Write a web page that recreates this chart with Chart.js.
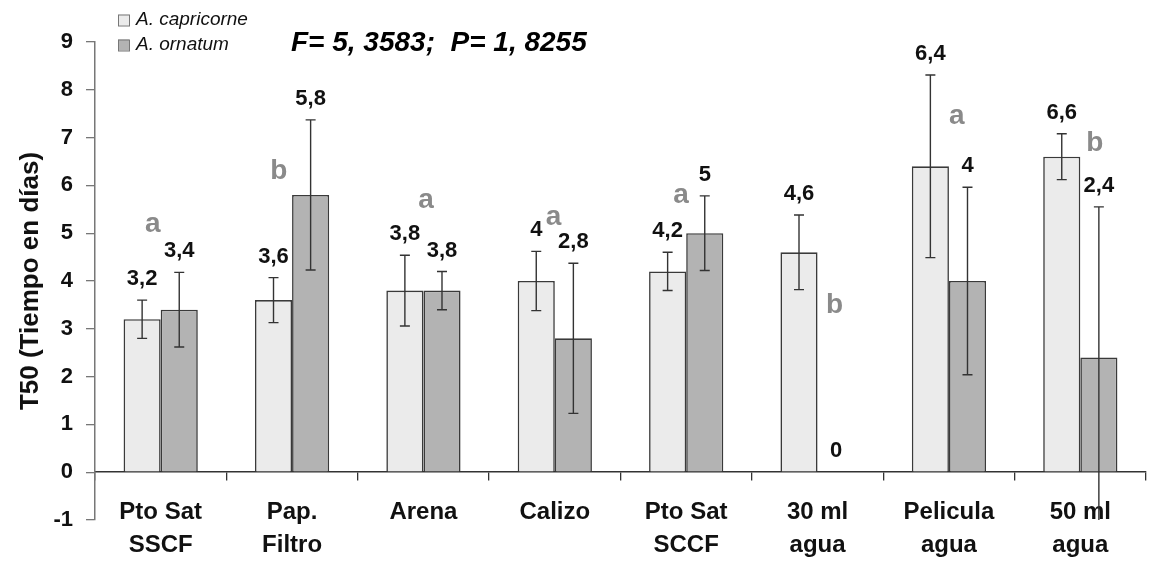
<!DOCTYPE html>
<html>
<head>
<meta charset="utf-8">
<script src="https://cdn.jsdelivr.net/npm/chart.js@4"></script>
<style>
  html, body { margin: 0; padding: 0; background: #fff; }
  #wrap { width: 1154px; height: 565px; position: relative; }
</style>
</head>
<body>
<div id="wrap"><canvas id="c"></canvas></div>
<script>
// Substrates / conditions tested
const categories = [
  ['Pto Sat', 'SSCF'], ['Pap.', 'Filtro'], 'Arena', 'Calizo',
  ['Pto Sat', 'SCCF'], ['30 ml', 'agua'], ['Pelicula', 'agua'], ['50 ml', 'agua']
];
const seriesNames = ['A. capricorne', 'A. ornatum'];

// T50 means (days) and their error ranges
const capricorne      = [3.2, 3.6, 3.8, 4.0, 4.2, 4.6, 6.4, 6.6];
const capricorneErr   = [0.4, 0.47, 0.74, 0.62, 0.4, 0.78, 1.91, 0.48];
const ornatum         = [3.4, 5.8, 3.8, 2.8, 5.0, 0, 4.0, 2.4];
const ornatumErrUp    = [0.78, 1.57, 0.4, 1.57, 0.78, 0, 1.96, 3.15];
const ornatumErrDown  = [0.78, 1.57, 0.4, 1.57, 0.78, 0, 1.96, 3.5];

// Significance letters per group
const groupLetters = ['a', 'b', 'a', 'a', 'a', 'b', 'a', 'b'];

// Value axis tick labels
const yTicks = [-1, 0, 1, 2, 3, 4, 5, 6, 7, 8, 9];

const statsText = 'F= 5, 3583;  P= 1, 8255';
const yTitle = 'T50 (Tiempo en días)';

const FONT = "'Liberation Sans', Arial, Helvetica, sans-serif";
const fmt = v => String(v).replace('.', ',');

// letter anchor: [offset within the category (fraction of its width), value on the y scale]
const letterPlacement = [
  [-0.06, 5.19], [-0.10, 6.30], [0.02, 5.69], [-0.01, 5.34],
  [-0.04, 5.79], [0.13, 3.50], [0.06, 7.45], [0.11, 6.89]
];

const annotate = {
  id: 'annotate',
  afterDatasetsDraw(chart) {
    const { ctx, chartArea, scales: { x, y } } = chart;

    chart.data.datasets.forEach((ds, di) => {
      const meta = chart.getDatasetMeta(di);
      meta.data.forEach((bar, i) => {
        const v = ds.data[i];
        const up = ds.errUp[i], down = ds.errDown[i];
        const px = bar.x;
        if (up > 0 || down > 0) {
          const yt = y.getPixelForValue(v + up);
          const yb = y.getPixelForValue(v - down);
          ctx.save();
          ctx.beginPath();
          ctx.rect(chartArea.left, chartArea.top, chartArea.width, chartArea.height);
          ctx.clip();
          ctx.strokeStyle = '#333';
          ctx.lineWidth = 1.4;
          ctx.beginPath();
          ctx.moveTo(px, yt); ctx.lineTo(px, yb);
          ctx.moveTo(px - 5, yt); ctx.lineTo(px + 5, yt);
          ctx.moveTo(px - 5, yb); ctx.lineTo(px + 5, yb);
          ctx.stroke();
          ctx.restore();
        }
        ctx.save();
        ctx.fillStyle = '#111';
        ctx.font = `bold 22px ${FONT}`;
        ctx.textAlign = 'center';
        ctx.textBaseline = 'middle';
        ctx.fillText(fmt(v), px, y.getPixelForValue(v + up) - 21);
        ctx.restore();
      });
    });

    // significance letters
    const catW = x.width / categories.length;
    ctx.save();
    ctx.fillStyle = '#8a8a8a';
    ctx.font = `bold 28px ${FONT}`;
    ctx.textAlign = 'center';
    ctx.textBaseline = 'middle';
    groupLetters.forEach((L, i) => {
      const [off, val] = letterPlacement[i];
      ctx.fillText(L, x.getPixelForValue(i) + off * catW, y.getPixelForValue(val));
    });
    ctx.restore();
  },
  afterDraw(chart) {
    const { ctx } = chart;
    // legend
    ctx.save();
    chart.data.datasets.forEach((ds, di) => {
      const cy = 20 + di * 25;
      ctx.fillStyle = ds.backgroundColor;
      ctx.fillRect(118, cy - 5.5, 11, 11);
      ctx.strokeStyle = '#777';
      ctx.lineWidth = 1;
      ctx.strokeRect(118.5, cy - 5, 11, 11);
      ctx.fillStyle = '#111';
      ctx.font = `italic 19px ${FONT}`;
      ctx.textAlign = 'left';
      ctx.textBaseline = 'middle';
      ctx.fillText(ds.label, 136, cy);
    });
    // statistics
    ctx.fillStyle = '#000';
    ctx.font = `italic bold 28px ${FONT}`;
    ctx.textAlign = 'left';
    ctx.textBaseline = 'middle';
    ctx.fillText(statsText, 291, 43);
    ctx.restore();
  }
};

new Chart(document.getElementById('c'), {
  type: 'bar',
  data: {
    labels: categories,
    datasets: [
      {
        label: seriesNames[0], data: capricorne,
        errUp: capricorneErr, errDown: capricorneErr,
        backgroundColor: '#ebebeb', borderColor: '#3a3a3a',
        borderWidth: c => (c.raw === 0 ? 0 : 1.6)
      },
      {
        label: seriesNames[1], data: ornatum,
        errUp: ornatumErrUp, errDown: ornatumErrDown,
        backgroundColor: '#b3b3b3', borderColor: '#3a3a3a',
        borderWidth: c => (c.raw === 0 ? 0 : 1.6)
      }
    ]
  },
  options: {
    responsive: true,
    maintainAspectRatio: false,
    animation: false,
    events: [],
    layout: { padding: { left: 0, top: 42, right: 8, bottom: 45 } },
    datasets: { bar: { categoryPercentage: 0.565, barPercentage: 1.0 } },
    plugins: { legend: { display: false }, tooltip: { enabled: false } },
    scales: {
      x: {
        position: { y: 0 },
        offset: true,
        grid: { offset: true, drawOnChartArea: false, drawTicks: true, tickLength: 8, color: '#333', lineWidth: 1.3 },
        border: { display: true, color: '#333', width: 1.5 },
        ticks: {
          autoSkip: false, maxRotation: 0, minRotation: 0, padding: 15,
          color: '#111', font: { family: FONT, size: 24, weight: 'bold', lineHeight: 1.4 }
        }
      },
      y: {
        position: 'left',
        min: yTicks[0], max: yTicks[yTicks.length - 1],
        afterFit: s => { s.width = 95; },
        afterBuildTicks: s => { s.ticks = yTicks.map(v => ({ value: v })); },
        grid: { drawOnChartArea: false, drawTicks: true, tickLength: 9, color: '#777', lineWidth: 1.3 },
        border: { display: true, color: '#777', width: 1.5 },
        ticks: {
          padding: 13, color: '#111',
          font: { family: FONT, size: 22, weight: 'bold' },
          callback: v => String(v)
        },
        title: {
          display: true, text: yTitle, color: '#111',
          font: { family: FONT, size: 26, weight: 'bold' },
          padding: { top: 15, bottom: 0 }
        }
      }
    }
  },
  plugins: [annotate]
});
</script>
</body>
</html>
